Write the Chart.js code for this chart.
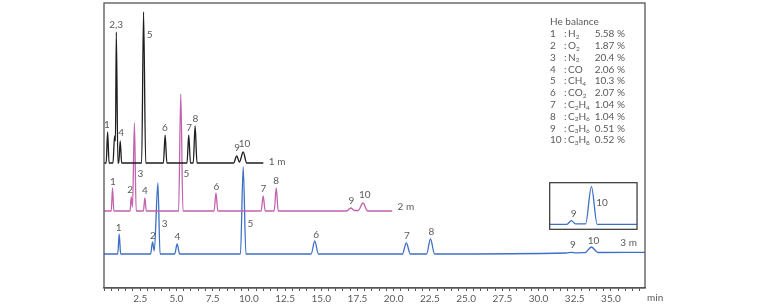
<!DOCTYPE html>
<html>
<head>
<meta charset="utf-8">
<title>Chromatogram</title>
<script src="https://cdn.jsdelivr.net/npm/chart.js@4/dist/chart.umd.min.js"></script>
<style>
  html, body { margin: 0; padding: 0; background: #fff; }
  #wrap { width: 757px; height: 307px; }
</style>
</head>
<body>
<div id="wrap"><canvas id="gcChart" width="757" height="307"></canvas></div>
<script>
// retention time (min) and signal above baseline, one pair of arrays per column length
const timeBlack = [0, 0.15, 0.25, 0.35, 0.62, 0.73, 0.79, 0.85, 0.96, 1.02, 1.12, 1.22,
  2.6, 2.73, 2.88, 4.1, 4.22, 4.34, 5.73, 5.85, 5.97, 6.16, 6.29, 6.42,
  8.95, 9.16, 9.35, 9.61, 9.85, 11.0];
const sigBlack = [0, 0, 31, 0, 0, 27, 22, 131, 0, 0, 22, 0,
  0, 151, 0, 0, 28, 0, 0, 28, 0, 0, 37, 0,
  0, 7, 1, 11, 0, 0];

const timePink = [0, 0.5, 0.59, 0.68, 1.8, 1.88, 1.97, 2.1, 2.22, 2.72, 2.82, 2.92,
  5.15, 5.3, 5.45, 7.6, 7.73, 7.86, 10.85, 10.99, 11.13, 11.75, 11.89, 12.03,
  16.75, 17.03, 17.3, 17.55, 17.88, 18.2, 19.9];
const sigPink = [0, 0, 23, 0, 0, 14, 4, 88, 0, 0, 13, 0,
  0, 117, 0, 0, 18, 0, 0, 15, 0, 0, 23, 0,
  0, 3, 0.5, 0.5, 8, 0, 0];

const timeBlue = [0, 0.95, 1.05, 1.15, 3.22, 3.35, 3.47, 3.72, 3.87, 4.88, 5.05, 5.22,
  9.42, 9.61, 9.8, 14.3, 14.55, 14.8, 20.6, 20.87, 21.15, 22.27, 22.54, 22.82,
  31.9, 32.27, 32.6, 33.2, 33.65, 34.1, 37.35];
const sigBlue = [0, 0, 20, 0, 0, 12, 3, 71, 0, 0, 10, 0,
  0, 87, 0, 0, 13, 0, 0, 11, 0, 0, 15, 0,
  1, 1.6, 1.2, 1.3, 7, 1.5, 1.7];

// enlarged view of peaks 9 and 10 on the 3 m column
const timeInset = [30.77, 31.95, 32.27, 32.55, 33.25, 33.65, 34.05, 36.8];
const sigInset = [0, 0, 3.6, 0.4, 0.4, 37.6, 0, 0];

// vertical offsets of the traces
const offsetBlack = 125;
const offsetPink = 77;
const offsetBlue = 34;
const offsetInset = 63.7;

// peak labels: [text, time, signal level]
const labelsBlack = [['1', 0.2, 163], ['2,3', 0.84, 263], ['4', 1.19, 155], ['5', 3.16, 253],
  ['6', 4.2, 160], ['7', 5.88, 160], ['8', 6.31, 169], ['9', 9.19, 140], ['10', 9.7, 144]];
const labelsPink = [['1', 0.61, 106], ['2', 1.81, 98], ['3', 2.52, 114], ['4', 2.82, 97],
  ['5', 5.69, 114], ['6', 7.76, 101], ['7', 11.01, 99], ['8', 11.88, 107], ['9', 17.08, 87], ['10', 18.0, 93]];
const labelsBlue = [['1', 1.02, 60], ['2', 3.37, 52], ['3', 4.18, 64], ['4', 5.07, 51],
  ['5', 10.11, 64], ['6', 14.64, 53], ['7', 20.92, 52], ['8', 22.6, 56], ['9', 32.38, 43], ['10', 33.8, 47]];
const labelsInset = [['9', 32.42, 74], ['10', 34.38, 85]];
const columnLabels = [['1 m', 11.95, 126], ['2 m', 20.84, 81], ['3 m', 36.22, 45]];

// sample composition
const compNums = ['1', '2', '3', '4', '5', '6', '7', '8', '9', '10'];
const compNames = ['H₂', 'O₂', 'N₂', 'CO', 'CH₄', 'CO₂', 'C₂H₄', 'C₂H₆', 'C₃H₆', 'C₃H₈'];
const compConc = ['5.58 %', '1.87 %', '20.4 %', '2.06 %', '10.3 %', '2.07 %', '1.04 %', '1.04 %', '0.51 %', '0.52 %'];

const TEXT = '#5a5a5a';
const FONT = 'Lato, "Noto Sans", sans-serif';

function trace(times, sig, off) {
  return times.map((t, i) => ({ x: t, y: sig[i] + off }));
}

const SUBS = { '₀': '0', '₁': '1', '₂': '2', '₃': '3', '₄': '4', '₅': '5', '₆': '6', '₇': '7', '₈': '8', '₉': '9' };
function drawFormula(ctx, s, x, y, size) {
  for (const ch of s) {
    if (SUBS[ch]) {
      ctx.font = (size * 0.65) + 'px ' + FONT;
      ctx.fillText(SUBS[ch], x, y + size * 0.28);
      x += ctx.measureText(SUBS[ch]).width;
    } else {
      ctx.font = size + 'px ' + FONT;
      ctx.fillText(ch, x, y);
      x += ctx.measureText(ch).width;
    }
  }
}

const annotations = {
  id: 'annotations',
  afterDatasetsDraw(chart) {
    const { ctx, chartArea: a, scales: { x, y } } = chart;
    ctx.save();
    // frame
    ctx.strokeStyle = '#555';
    ctx.lineWidth = 1.3;
    ctx.strokeRect(a.left, a.top, a.right - a.left, a.bottom - a.top);

    // inset box
    const bx1 = x.getPixelForValue(30.77), bx2 = x.getPixelForValue(36.8);
    const by1 = y.getPixelForValue(105.3), by2 = y.getPixelForValue(58.7);
    ctx.strokeStyle = '#333';
    ctx.lineWidth = 1.2;
    ctx.strokeRect(bx1, by1, bx2 - bx1, by2 - by1);

    // peak labels
    ctx.fillStyle = TEXT;
    ctx.font = '10px ' + FONT;
    ctx.textAlign = 'center';
    ctx.textBaseline = 'middle';
    [labelsBlack, labelsPink, labelsBlue, labelsInset, columnLabels].forEach(group => {
      group.forEach(([txt, t, v]) => ctx.fillText(txt, x.getPixelForValue(t), y.getPixelForValue(v)));
    });

    // composition table
    ctx.textAlign = 'left';
    ctx.font = '10px ' + FONT;
    ctx.fillText('He balance', 550, 22);
    compNums.forEach((n, i) => {
      const ry = 34 + i * 11.8;
      ctx.textAlign = 'left';
      ctx.font = '10px ' + FONT;
      ctx.fillText(n, 550, ry);
      ctx.fillText(':', 564, ry);
      drawFormula(ctx, compNames[i], 568, ry, 10);
      ctx.textAlign = 'right';
      ctx.font = '10px ' + FONT;
      ctx.fillText(compConc[i], 625, ry);
    });

    // axis unit
    ctx.textAlign = 'left';
    ctx.font = '10px ' + FONT;
    ctx.fillText('min', 647, 298);
    ctx.restore();
  }
};

const config = {
  type: 'line',
  data: {
    datasets: [
      { label: '1 m', data: trace(timeBlack, sigBlack, offsetBlack), borderColor: '#1e1e1e' },
      { label: '2 m', data: trace(timePink, sigPink, offsetPink), borderColor: '#c262ae' },
      { label: '3 m', data: trace(timeBlue, sigBlue, offsetBlue), borderColor: '#3d6fc4' },
      { label: '3 m (enlarged)', data: trace(timeInset, sigInset, offsetInset), borderColor: '#3d6fc4' }
    ]
  },
  options: {
    responsive: false,
    animation: false,
    layout: { padding: { left: 104, right: 112, top: 3, bottom: 0 } },
    elements: {
      line: { borderWidth: 1.3, cubicInterpolationMode: 'monotone' },
      point: { radius: 0 }
    },
    plugins: { legend: { display: false }, tooltip: { enabled: false } },
    scales: {
      x: {
        type: 'linear',
        min: 0,
        max: 37.35,
        afterFit: s => { s.height = 19; },
        border: { display: true, color: '#555', width: 1.3 },
        grid: { drawOnChartArea: false, tickLength: 3, color: '#555' },
        ticks: {
          stepSize: 0.5,
          autoSkip: false,
          includeBounds: false,
          maxRotation: 0,
          padding: 2,
          color: TEXT,
          font: { family: FONT, size: 10 },
          callback: v => (v > 0 && Math.abs(v / 2.5 - Math.round(v / 2.5)) < 1e-6) ? v.toFixed(1) : ''
        }
      },
      y: { display: false, min: 0, max: 285 }
    }
  },
  plugins: [annotations]
};

window.onload = function () {
  const ctx = document.getElementById('gcChart').getContext('2d');
  new Chart(ctx, config);
};
</script>
</body>
</html>
